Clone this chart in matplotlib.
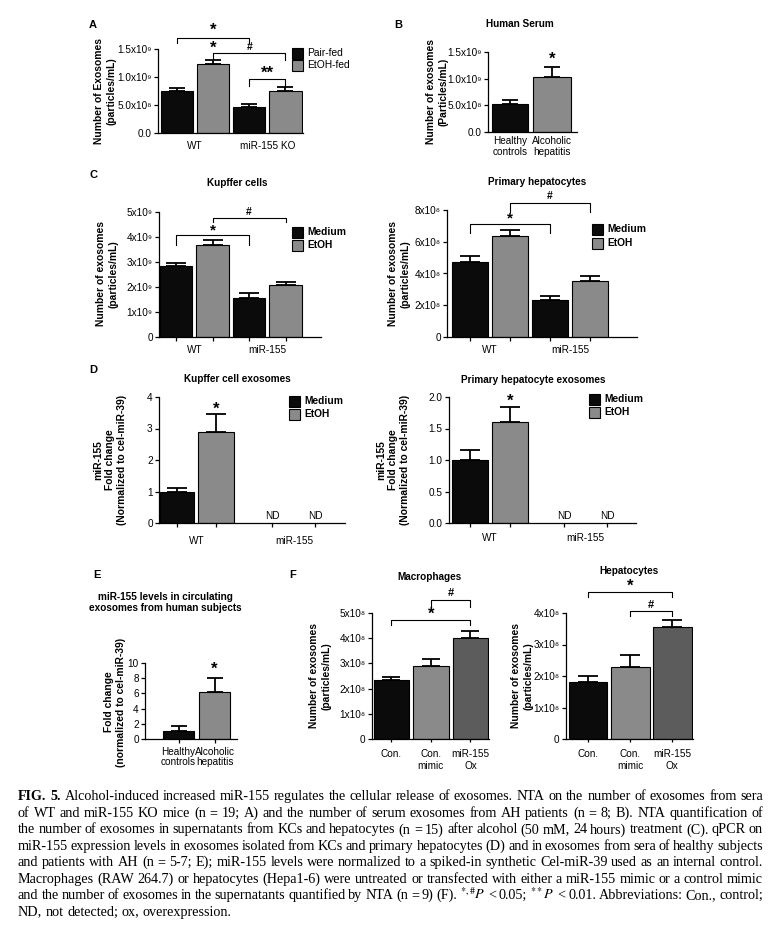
import numpy as np
import matplotlib
matplotlib.use('Agg')
import matplotlib.pyplot as plt
from matplotlib.patches import Rectangle
from matplotlib.transforms import Affine2D

plt.rcParams['font.family'] = ['Liberation Sans', 'DejaVu Sans']
plt.rcParams['font.size'] = 7.2
plt.rcParams['axes.linewidth'] = 0.9

BLACK = '#0b0b0b'
GRAY = '#8a8a8a'
DARK = '#5c5c5c'

# A: serum exosomes in mice (x10^9 particles/mL)
a_groups = ['WT', 'miR-155 KO']
a_pair = [0.75, 0.46]
a_pair_err = [0.06, 0.06]
a_etoh = [1.23, 0.75]
a_etoh_err = [0.07, 0.08]

# B: human serum (x10^9 particles/mL)
b_groups = ['Healthy\ncontrols', 'Alcoholic\nhepatitis']
b_vals = [0.525, 1.04]
b_err = [0.075, 0.17]

# C: Kupffer cells (x10^9) and primary hepatocytes (x10^8)
c_groups = ['WT', 'miR-155']
kc_medium = [2.84, 1.55]
kc_medium_err = [0.13, 0.20]
kc_etoh = [3.68, 2.08]
kc_etoh_err = [0.21, 0.13]
hep_medium = [4.74, 2.33]
hep_medium_err = [0.36, 0.25]
hep_etoh = [6.38, 3.55]
hep_etoh_err = [0.36, 0.29]

# D: miR-155 fold change in exosomes (miR-155 KO = ND)
kc_fc_medium = [1.0]
kc_fc_medium_err = [0.12]
kc_fc_etoh = [2.9]
kc_fc_etoh_err = [0.56]
hep_fc_medium = [1.0]
hep_fc_medium_err = [0.16]
hep_fc_etoh = [1.6]
hep_fc_etoh_err = [0.24]

# E: circulating exosomes, human subjects
e_groups = ['Healthy\ncontrols', 'Alcoholic\nhepatitis']
e_vals = [1.08, 6.14]
e_err = [0.65, 1.86]

# F: macrophages / hepatocytes (x10^8)
f_groups = ['Con.', 'Con.\nmimic', 'miR-155\nOx']
mac_vals = [2.34, 2.91, 4.0]
mac_err = [0.13, 0.26, 0.30]
hepa_vals = [1.82, 2.28, 3.57]
hepa_err = [0.19, 0.39, 0.21]

W, H = 781, 927
fig = plt.figure(figsize=(W / 100, H / 100), dpi=100)
pix = Affine2D().scale(1 / W, -1 / H).translate(0, 1) + fig.transFigure


def axes_px(l, t, r, b):
    ax = fig.add_axes([l / W, 1 - b / H, (r - l) / W, (b - t) / H])
    ax.patch.set_alpha(0)
    for s in ['top', 'right']:
        ax.spines[s].set_visible(False)
    return ax


def bars(ax, pos, vals, errs, color, width, cap):
    ax.bar(pos, vals, width, color=color, edgecolor='black', linewidth=0.8, zorder=2)
    ax.errorbar(pos, vals, yerr=[np.zeros(len(vals)), errs], fmt='none', ecolor='black',
                elinewidth=1.3, capsize=cap, capthick=1.3, zorder=1)


def yaxis(ax, ylim, ticks, labels):
    ax.set_ylim(*ylim)
    ax.set_yticks(ticks)
    ax.set_yticklabels(labels)
    ax.tick_params(axis='y', length=3, width=0.9, pad=1.5)


def xaxis(ax, xlim, ticks, centers, labels, pad, ticklen=3, ls=1.1):
    ax.set_xlim(*xlim)
    if list(ticks) == list(centers):
        # one label under each bar
        ax.set_xticks(ticks)
        ax.set_xticklabels(labels, linespacing=ls)
        ax.tick_params(axis='x', length=ticklen, width=0.9, pad=pad)
        return
    ax.set_xticks(ticks)
    ax.set_xticklabels([''] * len(ticks))
    ax.tick_params(axis='x', which='major', length=ticklen, width=0.9)
    ax.set_xticks(centers, minor=True)
    ax.set_xticklabels(labels, minor=True, linespacing=ls)
    ax.tick_params(axis='x', which='minor', length=0, pad=pad)


def bracket(ax, x1, x2, y, h):
    ax.plot([x1, x1, x2, x2], [y - h, y, y, y - h], color='black', lw=0.8, clip_on=False)


def mark(ax, x, y, s, size=11):
    ax.text(x, y, s, ha='center', va='center', fontsize=size, fontweight='bold', clip_on=False)


def legend_px(x, ys, labels, colors, bold=True, size=11):
    for y, lab, c in zip(ys, labels, colors):
        fig.add_artist(Rectangle((x, y - size / 2), size, size, transform=pix,
                                 facecolor=c, edgecolor='black', lw=0.8))
        fig.text(x + size + 4, y, lab, transform=pix, va='center', fontsize=7.4,
                 fontweight='bold' if bold else 'normal')


def text_px(x, y, s, size=7.2, bold=True, rot=0, ls=1.2):
    fig.text(x, y, s, transform=pix, ha='center', va='center', fontsize=size,
             fontweight='bold' if bold else 'normal', rotation=rot, linespacing=ls)


# ---- A
ax = axes_px(158, 49, 303, 133)
bars(ax, [0, 2], a_pair, a_pair_err, BLACK, 0.9, 6)
bars(ax, [1, 3], a_etoh, a_etoh_err, GRAY, 0.9, 6)
yaxis(ax, (0, 1.5), [0, 0.5, 1.0, 1.5], ['0.0', '5.0x10⁸', '1.0x10⁹', '1.5x10⁹'])
xaxis(ax, (-0.53, 3.49), [], [0.5, 2.5], a_groups, pad=6, ticklen=0)
bracket(ax, 0, 2, 1.70, 0.09)
mark(ax, 1, 1.84, '*', 12)
bracket(ax, 1, 3, 1.43, 0.13)
mark(ax, 1, 1.52, '*', 12)
mark(ax, 2, 1.54, '#', 7.5)
bracket(ax, 2, 3, 0.96, 0.12)
mark(ax, 2.5, 1.07, '**', 12)
legend_px(292, [53, 65], ['Pair-fed', 'EtOH-fed'], [BLACK, GRAY], bold=False)
text_px(93, 25, 'A', 8)
text_px(105.5, 91, 'Number of Exosomes\n(particles/mL)', 7.4, rot=90, ls=1.35)

# ---- B
ax = axes_px(488, 52, 577, 132)
bars(ax, [0], b_vals[:1], b_err[:1], BLACK, 0.86, 6)
bars(ax, [1], b_vals[1:], b_err[1:], GRAY, 0.9, 6)
yaxis(ax, (0, 1.5), [0, 0.5, 1.0, 1.5], ['0.0', '5.0x10⁸', '1.0x10⁹', '1.5x10⁹'])
xaxis(ax, (-0.52, 1.58), [0, 1], [0, 1], b_groups, pad=3, ticklen=0, ls=1.05)
mark(ax, 1, 1.36, '*', 12)
text_px(398, 25, 'B', 8)
text_px(520, 24, 'Human Serum')
text_px(437.5, 92, 'Number of exosomes\n(Particles/mL)', 7.4, rot=90, ls=1.35)

# ---- C left
ax = axes_px(159, 212, 321, 337)
bars(ax, [0, 2], kc_medium, kc_medium_err, BLACK, 0.89, 7)
bars(ax, [1, 3], kc_etoh, kc_etoh_err, GRAY, 0.89, 7)
yaxis(ax, (0, 5), [0, 1, 2, 3, 4, 5], ['0', '1x10⁹', '2x10⁹', '3x10⁹', '4x10⁹', '5x10⁹'])
xaxis(ax, (-0.47, 3.97), [0, 1, 2, 3], [0.5, 2.5], c_groups, pad=6)
bracket(ax, 0, 2, 4.08, 0.40)
mark(ax, 1, 4.28, '*', 11)
bracket(ax, 1, 3, 4.76, 0.16)
mark(ax, 2, 5.0, '#', 7.5)
legend_px(292, [232, 245], ['Medium', 'EtOH'], [BLACK, GRAY])
text_px(93, 175, 'C', 8)
text_px(237, 183, 'Kupffer cells')
text_px(107.5, 274, 'Number of exosomes\n(particles/mL)', 7.4, rot=90, ls=1.35)

# ---- C right
ax = axes_px(447, 210, 637, 337)
bars(ax, [0, 2], hep_medium, hep_medium_err, BLACK, 0.9, 7.5)
bars(ax, [1, 3], hep_etoh, hep_etoh_err, GRAY, 0.9, 7.5)
yaxis(ax, (0, 8), [0, 2, 4, 6, 8], ['0', '2x10⁸', '4x10⁸', '6x10⁸', '8x10⁸'])
xaxis(ax, (-0.575, 4.175), [0, 1, 2, 3], [0.5, 2.5], c_groups, pad=6)
bracket(ax, 0, 2, 7.12, 0.57)
mark(ax, 1, 7.45, '*', 11)
bracket(ax, 1, 3, 8.44, 0.57)
mark(ax, 2, 8.88, '#', 7.5)
legend_px(592, [229, 243], ['Medium', 'EtOH'], [BLACK, GRAY])
text_px(537, 182, 'Primary hepatocytes')
text_px(399, 274, 'Number of exosomes\n(particles/mL)', 7.4, rot=90, ls=1.35)

# ---- D left
d_pos = [0, 1, 2.45, 3.55]
ax = axes_px(159, 397, 345, 523)
bars(ax, [d_pos[0]], kc_fc_medium, kc_fc_medium_err, BLACK, 0.86, 7)
bars(ax, [d_pos[1]], kc_fc_etoh, kc_fc_etoh_err, GRAY, 0.92, 7)
yaxis(ax, (0, 4), [0, 1, 2, 3, 4], ['0', '1', '2', '3', '4'])
xaxis(ax, (-0.46, 4.31), d_pos, [0.5, 3.0], c_groups, pad=9)
mark(ax, 1, 3.60, '*', 12)
for p in d_pos[2:]:
    ax.text(p, 0.22, 'ND', ha='center', va='center', fontsize=7.2)
legend_px(289, [401, 414], ['Medium', 'EtOH'], [BLACK, GRAY])
text_px(93, 370, 'D', 8)
text_px(237, 379, 'Kupffer cell exosomes')
text_px(110, 460, 'miR-155\nFold change\n(Normalized to cel-miR-39)', 7.4, rot=90, ls=1.25)

# ---- D right
d_pos2 = [0, 1, 2.35, 3.43]
ax = axes_px(449, 397, 636, 523)
bars(ax, [d_pos2[0]], hep_fc_medium, hep_fc_medium_err, BLACK, 0.92, 7.5)
bars(ax, [d_pos2[1]], hep_fc_etoh, hep_fc_etoh_err, GRAY, 0.9, 7.5)
yaxis(ax, (0, 2), [0, 0.5, 1.0, 1.5, 2.0], ['0.0', '0.5', '1.0', '1.5', '2.0'])
xaxis(ax, (-0.525, 4.15), d_pos2, [0.5, 2.89], c_groups, pad=7.5)
mark(ax, 1, 1.93, '*', 12)
for p in d_pos2[2:]:
    ax.text(p, 0.11, 'ND', ha='center', va='center', fontsize=7.2)
legend_px(589, [399, 412], ['Medium', 'EtOH'], [BLACK, GRAY])
text_px(533, 380, 'Primary hepatocyte exosomes')
text_px(393, 460, 'miR-155\nFold change\n(Normalized to cel-miR-39)', 7.4, rot=90, ls=1.25)

# ---- E
ax = axes_px(145, 663, 237, 739)
bars(ax, [0], e_vals[:1], e_err[:1], BLACK, 0.87, 6)
bars(ax, [1], e_vals[1:], e_err[1:], GRAY, 0.87, 6)
yaxis(ax, (0, 10), [0, 2, 4, 6, 8, 10], ['0', '2', '4', '6', '8', '10'])
xaxis(ax, (-0.93, 1.62), [0, 1], [0, 1], e_groups, pad=2.5, ls=1.05)
mark(ax, 1, 9.2, '*', 12)
text_px(97, 575, 'E', 8)
text_px(165, 602.5, 'miR-155 levels in circulating\nexosomes from human subjects', 7.2, ls=1.15)
text_px(115, 702, 'Fold change\n(normalized to cel-miR-39)', 7.4, rot=90, ls=1.2)

# ---- F left
ax = axes_px(372, 613, 489, 739)
for i, c in enumerate([BLACK, GRAY, DARK]):
    bars(ax, [i], mac_vals[i:i + 1], mac_err[i:i + 1], c, 0.9, 6.5)
yaxis(ax, (0, 5), [0, 1, 2, 3, 4, 5], ['0', '1x10⁸', '2x10⁸', '3x10⁸', '4x10⁸', '5x10⁸'])
xaxis(ax, (-0.49, 2.47), [0, 1, 2], [0, 1, 2], f_groups, pad=5, ticklen=2, ls=1.3)
bracket(ax, 0, 2, 4.72, 0.2)
mark(ax, 1, 4.95, '*', 12)
bracket(ax, 1, 2, 5.52, 0.28)
mark(ax, 1.5, 5.79, '#', 8)
text_px(293, 575, 'F', 8)
text_px(430, 577, 'Macrophages')
text_px(320, 676, 'Number of exosomes\n(particles/mL)', 7.4, rot=90, ls=1.3)

# ---- F right
ax = axes_px(566, 613, 693, 739)
for i, c in enumerate([BLACK, GRAY, DARK]):
    bars(ax, [i], hepa_vals[i:i + 1], hepa_err[i:i + 1], c, 0.92, 7)
yaxis(ax, (0, 4), [0, 1, 2, 3, 4], ['0', '1x10⁸', '2x10⁸', '3x10⁸', '4x10⁸'])
xaxis(ax, (-0.52, 2.49), [0, 1, 2], [0, 1, 2], f_groups, pad=5, ticklen=2, ls=1.3)
bracket(ax, 0, 2, 4.67, 0.16)
mark(ax, 1, 4.86, '*', 12)
bracket(ax, 1, 2, 4.06, 0.16)
mark(ax, 1.5, 4.25, '#', 8)
text_px(629, 571, 'Hepatocytes')
text_px(522, 676, 'Number of exosomes\n(particles/mL)', 7.4, rot=90, ls=1.3)

# ---- caption, justified line by line
caption = [
    'FIG. 5. Alcohol-induced increased miR-155 regulates the cellular release of exosomes. NTA on the number of exosomes from sera',
    'of WT and miR-155 KO mice (n = 19; A) and the number of serum exosomes from AH patients (n = 8; B). NTA quantification of',
    'the number of exosomes in supernatants from KCs and hepatocytes (n = 15) after alcohol (50 mM, 24 hours) treatment (C). qPCR on',
    'miR-155 expression levels in exosomes isolated from KCs and primary hepatocytes (D) and in exosomes from sera of healthy subjects',
    'and patients with AH (n = 5-7; E); miR-155 levels were normalized to a spiked-in synthetic Cel-miR-39 used as an internal control.',
    'Macrophages (RAW 264.7) or hepatocytes (Hepa1-6) were untreated or transfected with either a miR-155 mimic or a control mimic',
    'and the number of exosomes in the supernatants quantified by NTA (n = 9) (F). *,#P < 0.05; **P < 0.01. Abbreviations: Con., control;',
    'ND, not detected; ox, overexpression.',
]
special = {'*,#P': r'$^{*,\#}\mathit{P}$', '**P': r'$^{**}\mathit{P}$'}
renderer = fig.canvas.get_renderer()
x0, x1 = 18, 763
for i, line in enumerate(caption):
    y = 800.5 + i * 16.45
    texts = []
    for w in line.split(' '):
        bold = i == 0 and w in ('FIG.', '5.')
        t = fig.text(0, y, special.get(w, w), transform=pix, va='baseline', fontsize=10.15,
                     family='Liberation Serif', math_fontfamily='stix',
                     fontweight='bold' if bold else 'normal')
        texts.append(t)
    widths = [t.get_window_extent(renderer).width for t in texts]
    if i == len(caption) - 1:
        gap = 3.4
    else:
        gap = (x1 - x0 - sum(widths)) / (len(texts) - 1)
    x = x0
    for t, wd in zip(texts, widths):
        t.set_x(x)
        x += wd + gap

fig.savefig('out.png', dpi=100)
